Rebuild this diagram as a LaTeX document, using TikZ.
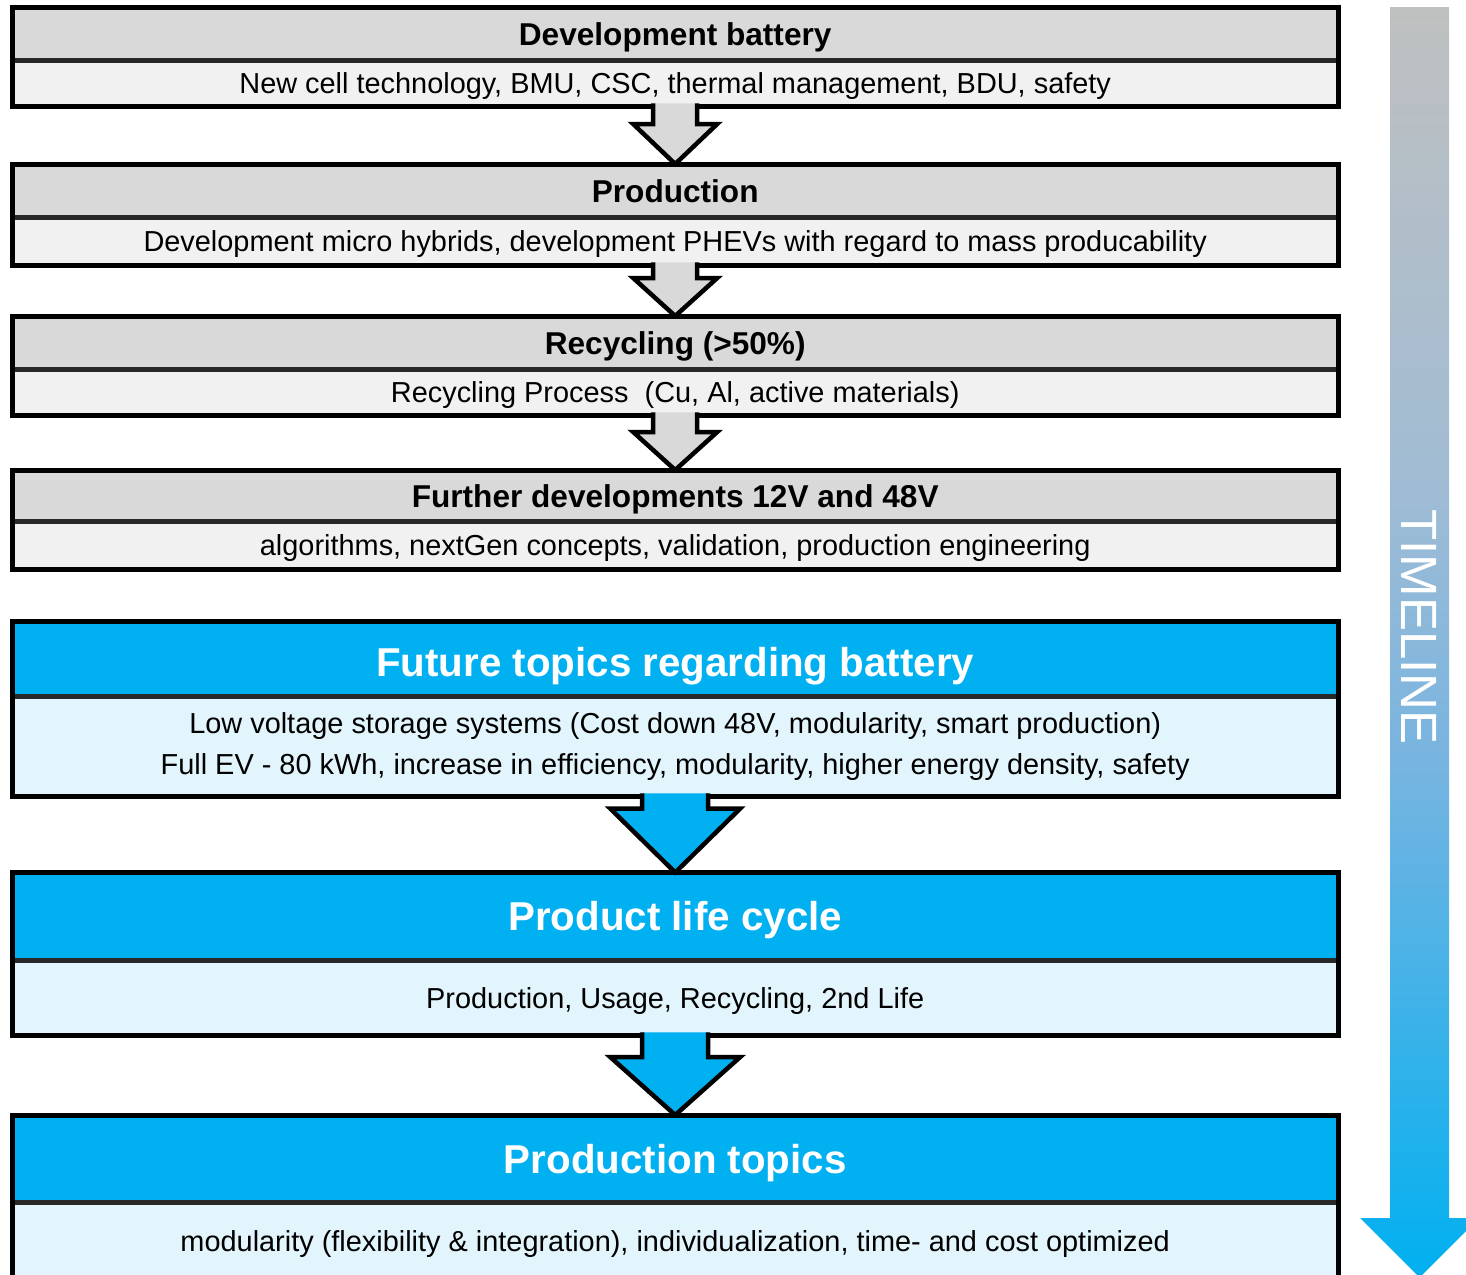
\documentclass[tikz,border=0pt]{standalone}
\usepackage{fontspec}
\setmainfont{Liberation Sans}
\usetikzlibrary{calc}
\definecolor{hdrgray}{RGB}{217,217,217}
\definecolor{bodygray}{RGB}{241,241,241}
\definecolor{hdrblue}{RGB}{0,176,240}
\definecolor{bodyblue}{RGB}{226,244,252}
\definecolor{divcol}{RGB}{40,40,40}
\definecolor{tlgray}{RGB}{191,192,192}
\definecolor{tlmid}{RGB}{160,188,212}
\definecolor{tlmidb}{RGB}{118,180,225}
\definecolor{tlblue}{RGB}{0,176,240}
\pgfdeclareverticalshading{timelineshade}{100bp}{color(0bp)=(tlblue); color(25bp)=(tlblue); color(45bp)=(tlmidb); color(56bp)=(tlmid); color(75bp)=(tlgray); color(100bp)=(tlgray)}
\newcommand\blockarrow[6]{% style, from, to, shaft half, head half, head length
  \fill[#1] ($(#2.south)+(-#4,-3)$) -- ($(#3.north)+(-#4,-#6)$) -- ($(#3.north)+(-#5,-#6)$) -- (#3.north) -- ($(#3.north)+(#5,-#6)$) -- ($(#3.north)+(#4,-#6)$) -- ($(#2.south)+(#4,-3)$) -- cycle;
  \draw[arrowline] ($(#2.south)+(-#4,-3)$) -- ($(#3.north)+(-#4,-#6)$) -- ($(#3.north)+(-#5,-#6)$) -- (#3.north) -- ($(#3.north)+(#5,-#6)$) -- ($(#3.north)+(#4,-#6)$) -- ($(#2.south)+(#4,-3)$);
}
\begin{document}
\begin{tikzpicture}[x=1pt,y=-1pt,
  basebox/.style={anchor=north west, inner sep=0pt, minimum width=1326pt, align=center},
  gtitle/.style={basebox, fill=hdrgray, text height=22.6pt, text depth=0pt, font=\fontsize{31.6}{36}\bfseries\selectfont},
  gbody/.style={basebox, fill=bodygray, text height=20.8pt, text depth=0pt, font=\fontsize{28.9}{34}\selectfont},
  btitle/.style={basebox, fill=hdrblue, text=white, text height=29pt, text depth=0pt, font=\fontsize{40.3}{46}\bfseries\selectfont},
  bbody/.style={basebox, fill=bodyblue, font=\fontsize{28.9}{41}\selectfont},
  bbodyone/.style={bbody, text height=20.8pt, text depth=0pt},
  divline/.style={draw=divcol, line width=5pt},
  frame/.style={draw=black, line width=5pt},
  arrowline/.style={draw=black, line width=4.5pt, line join=miter},
  grayfill/.style={fill=hdrgray},
  bluefill/.style={fill=hdrblue}
]
\useasboundingbox (0,0) rectangle (1466,1274);
\clip (0,0) rectangle (1466,1274);

% Timeline arrow
\shade[shading=timelineshade] (1390,7) -- (1449,7) -- (1449,1218) -- (1479,1218) -- (1419.5,1277.5) -- (1360,1218) -- (1390,1218) -- cycle;
\node[rotate=-90, text=white, font=\fontsize{51}{56}\selectfont, inner sep=0pt] (tl) at (1419.5,627) {TIMELINE};

% Box 1
\node[gtitle, minimum height=52.5pt] (h1) at (12,7.5) {Development battery};
\node[gbody, minimum height=46pt] (b1) at (12,60) {New cell technology, BMU, CSC, thermal management, BDU, safety};
\draw[divline] (h1.south west) -- (h1.south east);
\draw[frame] (h1.north west) rectangle (b1.south east);

% Box 2
\node[gtitle, minimum height=53pt] (h2) at (12,164) {Production};
\node[gbody, minimum height=48pt] (b2) at (12,217) {Development micro hybrids, development PHEVs with regard to mass producability};
\draw[divline] (h2.south west) -- (h2.south east);
\draw[frame] (h2.north west) rectangle (b2.south east);

% Box 3
\node[gtitle, minimum height=53pt] (h3) at (12,316) {Recycling (>50\%)};
\node[gbody, minimum height=46pt] (b3) at (12,369) {Recycling Process\ \ (Cu, Al, active materials)};
\draw[divline] (h3.south west) -- (h3.south east);
\draw[frame] (h3.north west) rectangle (b3.south east);

% Box 4
\node[gtitle, minimum height=51pt] (h4) at (12,470) {Further developments 12V and 48V};
\node[gbody, minimum height=48pt] (b4) at (12,521) {algorithms, nextGen concepts, validation, production engineering};
\draw[divline] (h4.south west) -- (h4.south east);
\draw[frame] (h4.north west) rectangle (b4.south east);

% Box 5
\node[btitle, minimum height=75pt, text height=43pt, text depth=8pt] (h5) at (12,621) {Future topics regarding battery};
\node[bbody, minimum height=100pt] (b5) at (12,696) {Low voltage storage systems (Cost down 48V, modularity, smart production)\\Full EV - 80 kWh, increase in efficiency, modularity, higher energy density, safety};
\draw[divline] (h5.south west) -- (h5.south east);
\draw[frame] (h5.north west) rectangle (b5.south east);

% Box 6
\node[btitle, minimum height=87.5pt] (h6) at (12,872.5) {Product life cycle};
\node[bbodyone, minimum height=75pt] (b6) at (12,960) {Production, Usage, Recycling, 2nd Life};
\draw[divline] (h6.south west) -- (h6.south east);
\draw[frame] (h6.north west) rectangle (b6.south east);

% Box 7
\node[btitle, minimum height=87pt] (h7) at (12,1115) {Production topics};
\node[bbodyone, minimum height=78pt] (b7) at (12,1202) {modularity (flexibility \& integration), individualization, time- and cost optimized};
\draw[divline] (h7.south west) -- (h7.south east);
\draw[frame] (h7.north west) rectangle (b7.south east);

% Connecting block arrows
\blockarrow{grayfill}{b1}{h2}{22}{42}{40}
\blockarrow{grayfill}{b2}{h3}{22}{42}{38}
\blockarrow{grayfill}{b3}{h4}{22}{42}{38}
\blockarrow{bluefill}{b5}{h6}{33}{65}{64}
\blockarrow{bluefill}{b6}{h7}{33}{65}{58}
\end{tikzpicture}
\end{document}
